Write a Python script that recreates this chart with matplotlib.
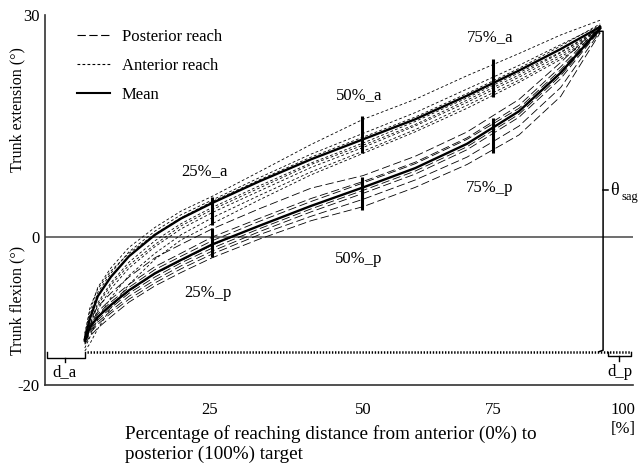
import matplotlib
matplotlib.use("Agg")
import matplotlib.pyplot as plt

plt.rcParams['font.family'] = ['Liberation Serif', 'DejaVu Serif']
plt.rcParams['lines.scale_dashes'] = False

# ---- data -------------------------------------------------------------
x_grid = [-3.5, -2.5, -1, 1.5, 5, 10, 15, 21, 30, 40, 50, 60, 70, 80, 88, 95.6]

mean_anterior = [-13.8, -11.0, -8.0, -5.4, -2.6, 0.3, 2.5, 4.6, 7.5, 10.5, 13.2, 15.9, 19.1, 22.5, 25.4, 28.4]
mean_posterior = [-14.0, -12.2, -10.8, -9.2, -7.2, -4.9, -3.1, -1.0, 1.5, 4.2, 6.7, 9.3, 12.6, 17.0, 22.2, 28.2]

anterior_trials = [
    [-13.0, -10.0, -6.8, -4.2, -1.4, 1.3, 3.5, 5.5, 8.8, 12.5, 15.9, 18.6, 21.8, 24.8, 27.3, 29.3],
    [-13.5, -10.5, -7.5, -4.9, -2.0, 0.8, 3.0, 5.0, 8.0, 11.2, 14.0, 16.8, 20.0, 23.2, 26.0, 28.6],
    [-14.0, -11.8, -8.9, -6.2, -3.4, -0.5, 1.8, 4.0, 6.9, 10.0, 12.7, 15.6, 18.8, 22.2, 25.0, 28.2],
    [-14.4, -12.5, -9.8, -7.0, -4.2, -1.3, 1.1, 3.3, 6.2, 9.4, 12.1, 15.0, 18.2, 21.6, 24.6, 28.0],
    [-15.0, -13.5, -11.0, -8.2, -5.2, -2.2, 0.3, 2.6, 5.6, 8.8, 11.6, 14.5, 17.8, 21.2, 24.3, 27.8],
    [-15.4, -14.4, -12.4, -9.6, -6.4, -3.0, -0.4, 1.8, 5.0, 8.4, 11.3, 14.2, 17.4, 20.9, 24.0, 27.6],
    [-13.2, -9.5, -7.0, -4.6, -2.2, 0.4, 2.6, 4.8, 7.7, 10.8, 13.5, 16.2, 19.4, 22.8, 25.8, 28.8],
    [-14.2, -12.0, -9.2, -6.5, -3.8, -1.0, 1.5, 3.7, 6.6, 9.8, 12.4, 15.2, 18.5, 21.9, 24.9, 28.1],
]

posterior_trials = [
    [-13.6, -11.2, -9.4, -7.6, -5.4, -2.8, -1.0, 1.1, 3.8, 6.6, 8.3, 10.9, 14.2, 18.6, 23.6, 28.6],
    [-13.8, -11.8, -10.1, -8.4, -6.4, -4.0, -2.2, 0.0, 2.5, 5.2, 7.5, 10.1, 13.4, 17.8, 23.0, 28.4],
    [-14.0, -12.3, -10.9, -9.3, -7.3, -5.0, -3.2, -1.1, 1.5, 4.2, 6.7, 9.3, 12.6, 17.0, 22.2, 28.2],
    [-14.2, -12.8, -11.5, -10.0, -8.0, -5.8, -3.9, -1.9, 0.7, 3.4, 5.9, 8.5, 11.8, 16.2, 21.4, 28.0],
    [-14.5, -13.4, -12.3, -10.8, -8.8, -6.6, -4.8, -2.8, -0.3, 2.2, 4.1, 6.7, 9.8, 13.8, 19.0, 27.6],
    [-13.9, -12.0, -10.4, -8.8, -6.8, -4.4, -2.6, -0.5, 2.1, 4.8, 7.3, 9.9, 13.2, 17.4, 22.6, 28.3],
    [-14.1, -12.6, -11.2, -9.6, -7.6, -5.4, -3.5, -1.5, 1.1, 3.8, 6.3, 8.9, 12.2, 16.6, 21.8, 28.1],
    [-14.3, -13.0, -11.8, -10.3, -8.4, -6.2, -4.3, -2.3, 0.3, 2.8, 5.1, 7.7, 10.8, 15.0, 20.2, 27.8],
]

# range bars at 25/50/75 %
bar_x = [21, 49.8, 75]
bar_ant_lo = [1.6, 11.3, 18.9]
bar_ant_hi = [5.4, 16.3, 24.0]
bar_post_lo = [-2.7, 3.7, 11.4]
bar_post_hi = [1.2, 8.1, 16.1]
bar_labels_a = ['25%_a', '50%_a', '75%_a']
bar_labels_p = ['25%_p', '50%_p', '75%_p']
label_a_xy = [(19.6, 8.9), (49.2, 19.2), (74.4, 27.0)]
label_p_xy = [(20.2, -7.6), (49.2, -3.0), (74.4, 6.6)]

tick_pos = [20.4, 50, 75, 100]
tick_labels = ['25', '50', '75', '100']

start_x = -3.5
end_x = 96.15
base_y = -15.5
theta_top = 27.8
theta_mid = 6.35

# ---- figure ------------------------------------------------------------
fig = plt.figure(figsize=(6.41, 4.66), dpi=100)
ax = fig.add_axes([0.0702, 0.1738, 0.9173, 0.794])
ax.set_xlim(-11.15, 101.9)
ax.set_ylim(-20, 30)

for s in ['top', 'right']:
    ax.spines[s].set_visible(False)
for s in ['left', 'bottom']:
    ax.spines[s].set_linewidth(1.2)
    ax.spines[s].set_color('#333333')

ax.axhline(0, color='#555555', lw=1.2, zorder=1)

dash_post = (0, (6, 2.5))
dash_ant = (0, (2, 1.6))

for tr in posterior_trials:
    ax.plot(x_grid, tr, color='black', lw=0.6, linestyle=dash_post, zorder=2)
for tr in anterior_trials:
    ax.plot(x_grid, tr, color='black', lw=0.6, linestyle=dash_ant, zorder=2)

ax.plot(x_grid, mean_anterior, color='black', lw=1.7, zorder=3)
ax.plot(x_grid, mean_posterior, color='black', lw=1.7, zorder=3)

ax.vlines(bar_x, bar_ant_lo, bar_ant_hi, color='black', lw=2.2, zorder=4)
ax.vlines(bar_x, bar_post_lo, bar_post_hi, color='black', lw=2.2, zorder=4)

fs = 12
for lab, (lx, ly) in zip(bar_labels_a, label_a_xy):
    ax.text(lx, ly, lab, ha='center', va='center', fontsize=fs)
for lab, (lx, ly) in zip(bar_labels_p, label_p_xy):
    ax.text(lx, ly, lab, ha='center', va='center', fontsize=fs)

# baseline (dotted) and theta_sag bracket
ax.plot([start_x + 0.4, 101.5], [base_y, base_y], color='black', lw=1.8,
        linestyle=(0, (1, 1.2)), zorder=2)
ax.plot([end_x - 1.0, end_x, end_x, end_x - 0.8],
        [theta_top, theta_top, base_y + 0.2, base_y], color='black', lw=1.1)
ax.plot([end_x, end_x + 0.9], [theta_mid, theta_mid], color='black', lw=1.1)
ax.text(end_x + 1.3, theta_mid, 'θ', ha='left', va='center', fontsize=13)
ax.text(end_x + 3.5, theta_mid - 0.9, 'sag', ha='left', va='center', fontsize=9)

# d_a bracket
ax.plot([-10.8, -10.8, start_x, start_x], [base_y, -16.3, -16.3, base_y],
        color='black', lw=1.0)
ax.plot([-7.3, -7.3], [-16.3, -16.9], color='black', lw=1.0)
ax.text(-7.5, -18.2, 'd_a', ha='center', va='center', fontsize=fs)
# d_p bracket
ax.plot([97.1, 97.1, 101.5, 101.5], [base_y, -16.1, -16.1, base_y],
        color='black', lw=1.0)
ax.plot([99.2, 99.2], [-16.1, -16.8], color='black', lw=1.0)
ax.text(99.4, -18.2, 'd_p', ha='center', va='center', fontsize=fs)

# ticks
ax.set_yticks([-20, 0, 30])
ax.set_yticklabels(['-20', '0', '30'], fontsize=fs)
ax.set_xticks(tick_pos)
ax.set_xticklabels(tick_labels, fontsize=fs)
ax.tick_params(axis='both', length=0)
ax.tick_params(axis='x', pad=12)
ax.tick_params(axis='y', pad=4)
ax.text(100, -25.9, '[%]', ha='center', va='center', fontsize=fs)

# legend
h1, = ax.plot([], [], color='black', lw=0.8, linestyle=(0, (6, 2.5)))
h2, = ax.plot([], [], color='black', lw=0.8, linestyle=(0, (2, 1.6)))
h3, = ax.plot([], [], color='black', lw=1.5)
ax.legend([h1, h2, h3], ['Posterior reach', 'Anterior reach', 'Mean'],
          loc='upper left', bbox_to_anchor=(0.054, 0.962), frameon=False,
          fontsize=fs, handlelength=2.0, handletextpad=0.7, labelspacing=0.78,
          borderpad=0, borderaxespad=0)

# axis labels
fig.text(17 / 641, 1 - 110 / 466, 'Trunk extension (°)', rotation=90,
         ha='center', va='center', fontsize=11.5)
fig.text(17 / 641, 1 - 300 / 466, 'Trunk flexion (°)', rotation=90,
         ha='center', va='center', fontsize=11.5)
fig.text(125 / 641, 1 - 444 / 466,
         'Percentage of reaching distance from anterior (0%) to\nposterior (100%) target',
         ha='left', va='center', fontsize=13.8, linespacing=1.15)

fig.savefig('out.png', dpi=100)
